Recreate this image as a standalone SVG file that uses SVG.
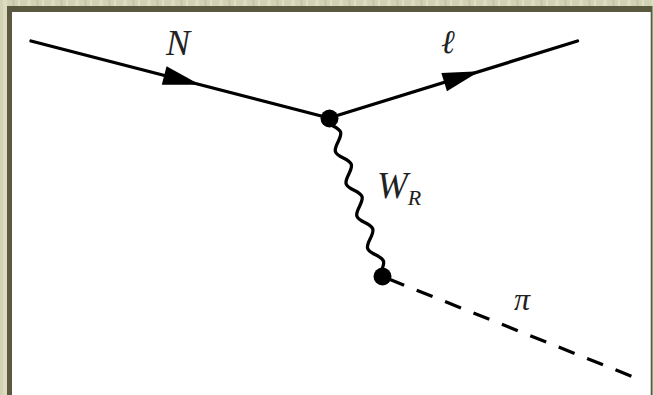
<svg xmlns="http://www.w3.org/2000/svg" width="654" height="395" viewBox="0 0 654 395">
  <defs>
    <pattern id="tex" x="0" y="0" width="24" height="24" patternUnits="userSpaceOnUse">
      <rect width="24" height="24" fill="#d3d1b4"/>
      <rect x="3" width="4" height="24" fill="#dcdac0"/>
      <rect x="12" width="3" height="24" fill="#c9c7a9"/>
      <rect x="18" width="2" height="24" fill="#e0dec6"/>
    </pattern>
    <polygon id="arrowhead" points="0,0 -37,-9.5 -37,9.5" fill="#000"/>
  </defs>
  <style>
    .line { fill: none; stroke: #000; stroke-width: 3.3; stroke-linecap: round; }
    .dash { fill: none; stroke: #000; stroke-width: 3.3; stroke-linecap: butt; stroke-dasharray: 17.1 13.5; stroke-dashoffset: 24.4; }
    .wave { fill: none; stroke: #000; stroke-width: 3.3; stroke-linecap: round; }
    .vertex { fill: #000; }
    .lbl { font-family: "Liberation Serif", "Times New Roman", serif; font-style: italic; fill: #222; }
  </style>

  <!-- frame -->
  <rect x="0" y="0" width="654" height="395" fill="url(#tex)"/>
  <rect x="7" y="6" width="645.5" height="400" fill="#5a583e"/>
  <rect x="12" y="12" width="638.7" height="400" fill="#ffffff"/>

  <g id="connectors">
    <g id="edge-N">
      <line class="line" x1="31" y1="41" x2="329" y2="118"/>
      <use href="#arrowhead" transform="translate(200,84.7) rotate(14.49)"/>
    </g>
    <g id="edge-l">
      <line class="line" x1="329" y1="118" x2="577.5" y2="41"/>
      <use href="#arrowhead" transform="translate(479.5,71.2) rotate(-17.25)"/>
    </g>
    <g id="edge-W">
      <path class="wave" transform="translate(329,118) rotate(71.6)" d="M0,4.5 C6.12,4.5 10.88,-6.5 17,-6.5 S27.88,4.5 34,4.5 S44.88,-6.5 51,-6.5 S61.88,4.5 68,4.5 S78.88,-6.5 85,-6.5 S95.88,4.5 102,4.5 S112.88,-6.5 119,-6.5 S129.88,4.5 136,4.5 S146.88,-6.5 153,-6.5 S164.88,4.5 170,4.5"/>
    </g>
    <g id="edge-pi">
      <line class="dash" x1="382.5" y1="276.5" x2="631.7" y2="376.3"/>
    </g>
  </g>

  <g id="v1"><circle class="vertex" cx="329.5" cy="118.5" r="9"/></g>
  <g id="v2"><circle class="vertex" cx="382.5" cy="276.5" r="9"/></g>

  <g id="label-N"><text class="lbl" x="166" y="55" font-size="36">N</text></g>
  <g id="label-l"><text class="lbl" x="441" y="53" font-size="33">ℓ</text></g>
  <g id="label-W"><text class="lbl" x="377" y="198" font-size="37">W<tspan font-size="22" dy="7">R</tspan></text></g>
  <g id="label-pi"><text class="lbl" x="514" y="310" font-size="32">π</text></g>
</svg>
